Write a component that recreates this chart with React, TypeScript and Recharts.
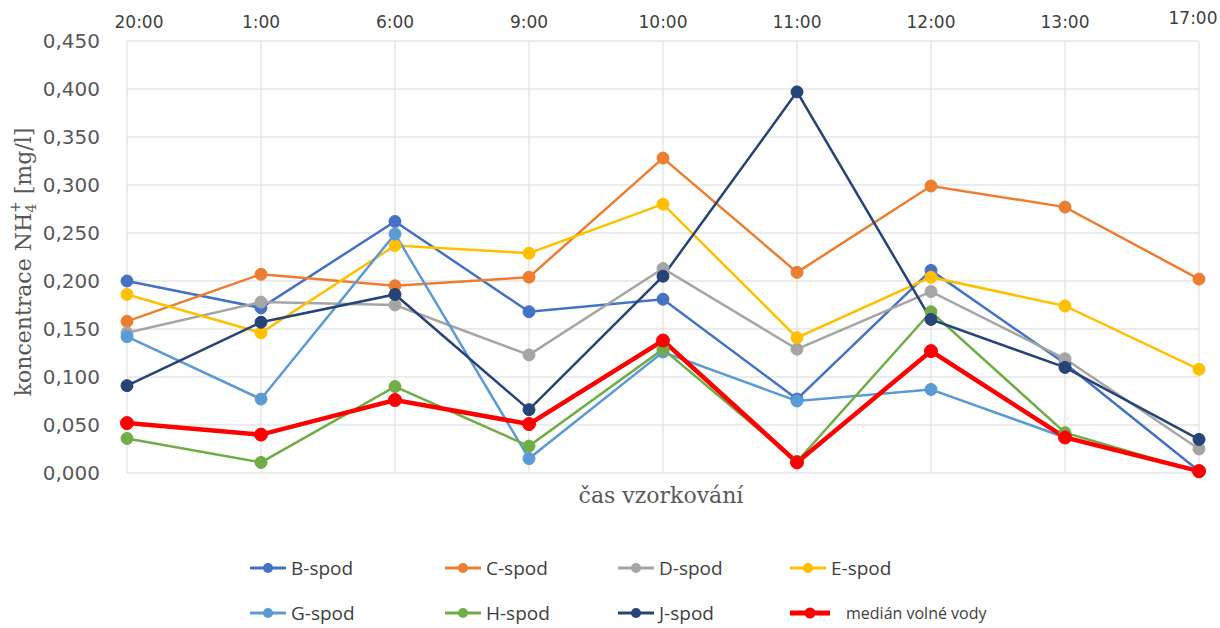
import { CartesianGrid, Legend, Line, LineChart, XAxis, YAxis } from "recharts"

const times = ["20:00", "1:00", "6:00", "9:00", "10:00", "11:00", "12:00", "13:00", "17:00"]

const bSpod = [0.2, 0.172, 0.262, 0.168, 0.181, 0.077, 0.211, 0.114, 0.002]
const cSpod = [0.158, 0.207, 0.195, 0.204, 0.328, 0.209, 0.299, 0.277, 0.202]
const dSpod = [0.146, 0.178, 0.175, 0.123, 0.213, 0.129, 0.189, 0.119, 0.025]
const eSpod = [0.186, 0.146, 0.237, 0.229, 0.28, 0.141, 0.204, 0.174, 0.108]
const gSpod = [0.142, 0.077, 0.249, 0.015, 0.126, 0.075, 0.087, 0.037, 0.002]
const hSpod = [0.036, 0.011, 0.09, 0.028, 0.129, 0.012, 0.168, 0.042, 0.001]
const jSpod = [0.091, 0.157, 0.186, 0.066, 0.205, 0.397, 0.16, 0.11, 0.035]
const median = [0.052, 0.04, 0.076, 0.051, 0.138, 0.011, 0.127, 0.037, 0.002]

const yTicks = [0, 0.05, 0.1, 0.15, 0.2, 0.25, 0.3, 0.35, 0.4, 0.45]

const series = [
  { key: "b", name: "B-spod", values: bSpod, color: "#4472C4", width: 2.5, r: 6 },
  { key: "c", name: "C-spod", values: cSpod, color: "#ED7D31", width: 2.5, r: 6 },
  { key: "d", name: "D-spod", values: dSpod, color: "#A5A5A5", width: 2.5, r: 6 },
  { key: "e", name: "E-spod", values: eSpod, color: "#FFC000", width: 2.5, r: 6 },
  { key: "g", name: "G-spod", values: gSpod, color: "#5B9BD5", width: 2.5, r: 6 },
  { key: "h", name: "H-spod", values: hSpod, color: "#70AD47", width: 2.5, r: 6 },
  { key: "j", name: "J-spod", values: jSpod, color: "#264478", width: 2.5, r: 6 },
  { key: "m", name: "medián volné vody", values: median, color: "#FF0000", width: 4.5, r: 6.5 },
]

const data = times.map((time, i) => {
  const row: Record<string, string | number> = { time }
  series.forEach((s) => {
    row[s.key] = s.values[i]
  })
  return row
})

const tickColor = "#595959"

const TopTick = (props: any) => {
  const { x, y, payload, index } = props
  const last = index === times.length - 1
  const dx = index === 0 ? 12 : last ? -6 : 0
  const dy = last ? -4 : 0
  return (
    <text
      x={x + dx}
      y={y + dy}
      textAnchor="middle"
      fill="#404040"
      fontSize={17}
      fontFamily="DejaVu Sans"
    >
      {payload.value}
    </text>
  )
}

const YTitle = (props: any) => {
  const vb = props.viewBox
  const cx = vb.x + 31
  const cy = vb.y + vb.height / 2 + 5
  return (
    <text
      x={cx}
      y={cy}
      transform={`rotate(-90, ${cx}, ${cy})`}
      textAnchor="middle"
      fill={tickColor}
      fontSize={22}
      fontFamily="DejaVu Serif"
    >
      koncentrace NH
      <tspan dy={5} fontSize={14}>4</tspan>
      <tspan dx={-9} dy={-16} fontSize={14}>+</tspan>
      <tspan dy={11}> [mg/l]</tspan>
    </text>
  )
}

const XTitle = (props: any) => {
  const vb = props.viewBox
  return (
    <text
      x={vb.x + vb.width / 2 - 2}
      y={vb.y + 30}
      textAnchor="middle"
      fill={tickColor}
      fontSize={22}
      fontFamily="DejaVu Serif"
    >
      čas vzorkování
    </text>
  )
}

const legendCols = [250, 445, 618, 790]
const legendRows = [55, 100]

const ChartLegend = () => (
  <div style={{ position: "relative", width: 1220, height: 115 }}>
    {series.map((s, i) => {
      const isMedian = s.key === "m"
      const left = legendCols[i % 4]
      const top = legendRows[Math.floor(i / 4)]
      return (
        <div
          key={s.key}
          style={{
            position: "absolute",
            left,
            top: top - 14,
            height: 28,
            display: "flex",
            alignItems: "center",
            whiteSpace: "nowrap",
          }}
        >
          <svg width={isMedian ? 40 : 36} height={16} style={{ display: "block" }}>
            <line
              x1={0}
              y1={8}
              x2={isMedian ? 40 : 36}
              y2={8}
              stroke={s.color}
              strokeWidth={isMedian ? 5 : 3}
            />
            <circle cx={isMedian ? 20 : 18} cy={8} r={isMedian ? 5.5 : 5} fill={s.color} />
          </svg>
          <span
            style={{
              marginLeft: isMedian ? 16 : 5,
              fontFamily: "Open Sans",
              fontSize: isMedian ? 16 : 19,
              color: "#404040",
            }}
          >
            {s.name}
          </span>
        </div>
      )
    })}
  </div>
)

export default function App() {
  return (
    <div style={{ position: "absolute", left: 0, top: 0, width: 1220, height: 628, background: "#fff" }}>
      <LineChart width={1220} height={628} data={data} margin={{ top: 0, right: 21, bottom: 0, left: 0 }}>
        <CartesianGrid stroke="#d9d9d9" strokeWidth={1} />
        <XAxis
          dataKey="time"
          orientation="top"
          height={41}
          axisLine={false}
          tickLine={false}
          tickMargin={7}
          tick={<TopTick />}
          interval={0}
        />
        <XAxis
          xAxisId="title"
          dataKey="time"
          orientation="bottom"
          height={40}
          axisLine={false}
          tickLine={false}
          tick={false}
          label={<XTitle />}
        />
        <YAxis
          width={127}
          domain={[0, 0.45]}
          ticks={yTicks}
          interval={0}
          axisLine={false}
          tickLine={false}
          tickMargin={21}
          tick={{ fill: tickColor, fontSize: 20, fontFamily: "DejaVu Sans" }}
          tickFormatter={(v: number) => v.toFixed(3).replace(".", ",")}
          label={<YTitle />}
        />
        <Legend
          verticalAlign="bottom"
          content={<ChartLegend />}
          wrapperStyle={{ left: 0, width: 1220, height: 115, bottom: 0 }}
        />
        {series.map((s) => (
          <Line
            key={s.key}
            type="linear"
            dataKey={s.key}
            name={s.name}
            stroke={s.color}
            strokeWidth={s.width}
            dot={{ r: s.r, fill: s.color, stroke: s.color, strokeWidth: 1 }}
            activeDot={false}
            isAnimationActive={false}
          />
        ))}
      </LineChart>
    </div>
  )
}
